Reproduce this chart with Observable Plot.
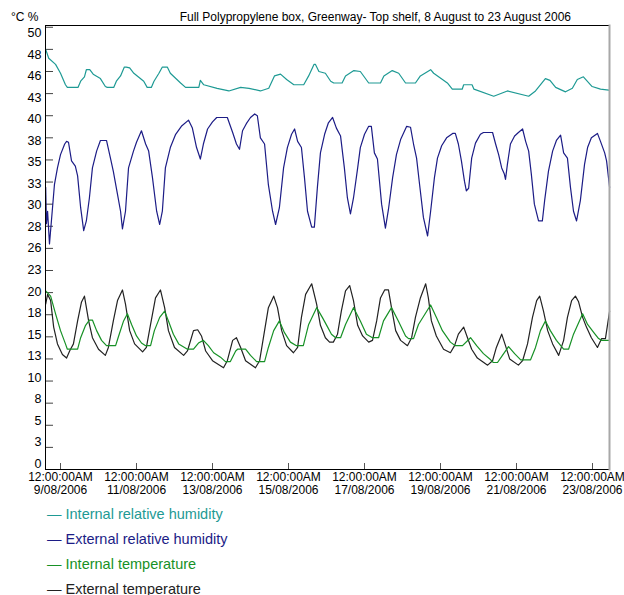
<!DOCTYPE html>
<html><head><meta charset="utf-8">
<script src="https://cdn.jsdelivr.net/npm/d3@7"></script>
<script src="https://cdn.jsdelivr.net/npm/@observablehq/plot@0.6"></script>
<style>
body{margin:0;background:#fff;font-family:Arial,"Liberation Sans",sans-serif;}
#wrap{position:relative;width:624px;}
#head{position:relative;height:24px;font-size:12px;line-height:14px;color:#000;}
#unit{position:absolute;left:11px;top:10px;}
#title{position:absolute;right:53px;top:10px;white-space:nowrap;}
#legend{font-size:14.5px;}
#legend .row{height:25px;line-height:25px;padding-left:47px;white-space:nowrap;}
</style></head><body>
<div id="wrap">
<div id="head"><span id="unit"></span><span id="title"></span></div>
<div id="chart"></div>
<div id="legend"></div>
</div>
<script>
const titleText = "Full Polypropylene box, Greenway- Top shelf, 8 August to 23 August 2006";
const unitText = "°C %";

// [day of August 2006 (decimal, 9.0 = 12:00:00AM 9/08/2006), value]
const internalRH = [[8.61,47.5],[8.69,46.5],[8.87,45.8],[9.00,44.8],[9.13,43.5],[9.18,43.2],[9.46,43.2],[9.53,43.9],[9.63,44.4],[9.68,45.2],[9.77,45.2],[9.86,44.7],[10.05,44.2],[10.18,43.3],[10.23,43.2],[10.40,43.2],[10.47,43.9],[10.58,44.5],[10.68,45.5],[10.73,45.5],[10.82,45.4],[10.93,44.8],[11.19,43.9],[11.28,43.2],[11.39,43.2],[11.46,43.9],[11.59,44.8],[11.68,45.5],[11.81,45.5],[11.89,44.8],[12.16,43.7],[12.29,43.2],[12.64,43.2],[12.68,44.0],[12.77,43.5],[13.12,43.1],[13.43,42.8],[13.74,43.2],[13.96,43.1],[14.26,42.8],[14.48,43.1],[14.63,44.5],[14.79,44.7],[14.95,44.1],[15.14,43.5],[15.40,43.5],[15.53,44.5],[15.67,45.8],[15.71,45.8],[15.80,45.0],[15.97,44.8],[16.11,43.9],[16.19,43.7],[16.41,43.7],[16.50,44.5],[16.72,45.1],[16.89,45.0],[17.11,43.7],[17.42,43.7],[17.51,44.5],[17.73,45.1],[17.90,44.8],[18.08,43.7],[18.34,43.7],[18.47,44.5],[18.74,45.2],[18.82,44.8],[19.18,43.7],[19.31,43.0],[19.57,43.0],[19.61,43.5],[19.83,43.5],[19.88,43.0],[20.40,42.2],[20.76,42.8],[21.32,42.2],[21.50,42.8],[21.76,44.2],[21.88,44.0],[22.03,43.2],[22.29,42.7],[22.47,43.1],[22.60,44.1],[22.76,44.4],[22.99,43.3],[23.21,43.0],[23.43,42.9]];

const externalRH = [[8.61,31.9],[8.63,27.8],[8.66,29.2],[8.71,25.5],[8.84,32.2],[8.92,34.1],[9.00,35.6],[9.11,36.8],[9.16,37.1],[9.21,37.0],[9.29,34.9],[9.39,34.3],[9.45,33.2],[9.53,29.6],[9.61,27.0],[9.68,28.1],[9.76,30.7],[9.84,34.1],[9.95,36.0],[10.05,37.2],[10.21,37.2],[10.32,35.1],[10.39,33.7],[10.50,31.1],[10.58,29.2],[10.63,27.2],[10.71,29.2],[10.79,34.1],[10.92,36.0],[11.00,37.0],[11.13,38.3],[11.24,36.8],[11.32,36.0],[11.42,33.0],[11.53,29.2],[11.61,27.7],[11.68,29.2],[11.76,34.1],[11.89,36.4],[12.03,37.9],[12.18,38.8],[12.37,39.5],[12.47,38.6],[12.58,36.4],[12.68,35.1],[12.76,36.8],[12.87,38.5],[13.00,39.3],[13.11,39.8],[13.39,39.8],[13.53,38.1],[13.63,36.8],[13.71,36.2],[13.79,38.3],[13.89,39.1],[14.00,39.8],[14.11,40.2],[14.18,40.0],[14.26,37.5],[14.37,36.8],[14.47,32.2],[14.58,29.2],[14.66,27.7],[14.76,29.6],[14.87,34.1],[14.97,36.4],[15.08,37.9],[15.16,38.5],[15.24,37.1],[15.34,36.4],[15.42,33.0],[15.50,29.2],[15.61,27.4],[15.68,27.4],[15.76,31.9],[15.84,35.8],[15.95,37.9],[16.05,39.2],[16.16,39.8],[16.26,38.6],[16.37,37.7],[16.47,34.1],[16.55,30.7],[16.63,28.9],[16.71,30.7],[16.82,34.1],[16.89,36.4],[17.00,37.9],[17.11,38.8],[17.18,38.8],[17.26,35.8],[17.34,35.1],[17.45,30.0],[17.55,27.3],[17.63,29.4],[17.74,33.0],[17.84,35.6],[17.95,37.3],[18.11,38.8],[18.21,38.7],[18.29,36.8],[18.37,35.2],[18.45,32.2],[18.55,28.5],[18.66,26.4],[18.74,29.2],[18.84,33.0],[18.92,35.2],[19.03,36.6],[19.16,37.5],[19.32,38.0],[19.39,38.0],[19.47,36.8],[19.55,34.9],[19.63,32.6],[19.68,31.5],[19.74,31.8],[19.82,35.2],[19.92,36.9],[20.05,37.9],[20.13,38.1],[20.37,38.1],[20.45,36.8],[20.53,35.6],[20.61,34.1],[20.68,33.4],[20.71,32.8],[20.76,34.5],[20.84,36.8],[20.95,37.7],[21.05,38.1],[21.16,38.5],[21.24,37.1],[21.32,36.0],[21.39,33.4],[21.47,30.0],[21.58,28.1],[21.68,28.1],[21.74,30.4],[21.84,33.7],[21.95,36.0],[22.05,37.2],[22.16,37.8],[22.24,35.8],[22.34,35.2],[22.42,31.9],[22.50,29.2],[22.58,28.1],[22.68,30.4],[22.79,34.5],[22.87,36.4],[22.97,37.5],[23.13,38.0],[23.21,37.1],[23.32,35.8],[23.37,34.9],[23.45,31.9]];

const internalTemp = [[8.61,20.2],[8.74,19.6],[8.87,17.6],[9.00,15.7],[9.13,14.2],[9.18,13.6],[9.45,13.6],[9.53,14.9],[9.66,16.3],[9.76,16.9],[9.84,16.9],[9.95,15.7],[10.08,14.6],[10.21,14.0],[10.45,14.0],[10.53,15.1],[10.66,16.8],[10.76,17.6],[10.87,16.4],[11.00,15.1],[11.13,14.3],[11.24,14.0],[11.37,14.0],[11.47,15.7],[11.61,17.2],[11.74,17.9],[11.84,16.8],[11.97,15.3],[12.11,14.2],[12.34,13.6],[12.50,13.6],[12.63,14.3],[12.76,14.6],[12.89,14.0],[13.03,13.2],[13.21,12.7],[13.34,12.2],[13.47,12.2],[13.61,13.4],[13.66,13.6],[13.87,13.6],[14.00,12.9],[14.16,12.2],[14.37,12.2],[14.47,13.8],[14.61,15.7],[14.76,16.8],[14.89,15.5],[15.05,14.4],[15.21,14.0],[15.39,14.0],[15.53,16.4],[15.74,18.3],[15.89,17.2],[16.03,16.1],[16.13,15.3],[16.24,14.9],[16.37,14.9],[16.50,16.4],[16.71,18.3],[16.89,16.8],[17.05,15.3],[17.21,14.9],[17.37,14.9],[17.50,16.8],[17.71,18.3],[17.89,16.8],[18.08,15.1],[18.16,14.8],[18.29,14.8],[18.42,16.4],[18.74,18.6],[18.89,17.2],[19.05,15.7],[19.26,14.4],[19.39,14.0],[19.58,14.0],[19.79,14.9],[19.95,14.0],[20.13,13.1],[20.32,12.4],[20.39,12.1],[20.50,12.1],[20.63,12.9],[20.79,13.9],[20.95,13.1],[21.11,12.4],[21.37,12.4],[21.50,13.8],[21.63,15.7],[21.76,16.8],[21.89,15.7],[22.05,14.6],[22.24,13.6],[22.37,13.6],[22.50,15.3],[22.74,17.6],[22.87,16.4],[23.03,15.5],[23.16,14.8],[23.24,14.6],[23.45,14.6]];

const externalTemp = [[8.61,18.7],[8.66,19.8],[8.74,19.1],[8.82,16.1],[8.92,14.2],[9.05,13.0],[9.16,12.6],[9.24,13.4],[9.34,14.2],[9.45,16.8],[9.55,18.9],[9.63,19.6],[9.74,16.8],[9.84,14.9],[10.00,13.6],[10.18,12.9],[10.26,13.8],[10.39,16.8],[10.50,19.1],[10.63,20.3],[10.71,18.7],[10.82,15.7],[10.95,14.2],[11.16,13.3],[11.26,13.8],[11.37,16.4],[11.50,19.4],[11.63,20.3],[11.74,18.3],[11.84,15.7],[12.00,13.8],[12.24,12.9],[12.34,13.4],[12.50,15.7],[12.61,15.8],[12.71,15.1],[12.82,13.4],[13.00,12.3],[13.29,11.5],[13.39,12.3],[13.53,14.6],[13.63,14.9],[13.74,13.8],[13.87,12.3],[14.13,11.5],[14.24,12.3],[14.37,15.7],[14.47,18.3],[14.61,19.6],[14.71,18.3],[14.82,15.7],[14.95,14.0],[15.13,13.2],[15.24,13.8],[15.34,17.2],[15.45,19.8],[15.61,21.0],[15.74,18.7],[15.84,16.3],[15.97,14.9],[16.08,14.4],[16.18,14.4],[16.29,15.3],[16.39,17.9],[16.50,20.2],[16.61,20.8],[16.71,19.1],[16.82,16.3],[16.95,15.1],[17.11,14.4],[17.21,14.6],[17.32,16.8],[17.42,19.4],[17.53,20.3],[17.63,20.3],[17.71,18.3],[17.82,15.7],[17.95,14.6],[18.13,14.0],[18.24,14.9],[18.34,17.2],[18.47,19.4],[18.61,21.0],[18.68,19.4],[18.76,16.8],[18.89,15.1],[19.08,13.6],[19.26,13.2],[19.37,14.0],[19.47,15.3],[19.61,16.1],[19.71,14.9],[19.82,13.6],[19.97,12.6],[20.24,11.8],[20.37,12.3],[20.47,13.8],[20.61,15.3],[20.71,14.0],[20.82,12.5],[21.05,11.8],[21.16,12.3],[21.29,14.2],[21.42,17.2],[21.53,19.1],[21.61,19.6],[21.71,17.9],[21.82,15.7],[21.95,14.2],[22.11,12.9],[22.24,14.6],[22.34,17.2],[22.45,19.1],[22.55,19.6],[22.63,19.0],[22.74,17.2],[22.84,16.1],[22.97,14.9],[23.13,13.8],[23.24,14.8],[23.34,14.8],[23.45,17.9]];

const yTickValues = [0,2.5,5,7.5,10,12.5,15,17.5,20,22.5,25,27.5,30,32.5,35,37.5,40,42.5,45,47.5,50];
const yTickLabels = ["0","3","5","8","10","13","15","18","20","23","26","28","30","33","35","38","40","43","46","48","50"];
const xTickDays = [9,11,13,15,17,19,21,23];
const xTickLabels = ["12:00:00AM\n9/08/2006","12:00:00AM\n11/08/2006","12:00:00AM\n13/08/2006","12:00:00AM\n15/08/2006","12:00:00AM\n17/08/2006","12:00:00AM\n19/08/2006","12:00:00AM\n21/08/2006","12:00:00AM\n23/08/2006"];
const xDomainDays = [8.605, 23.447];

const seriesNames = ["Internal relative humidity","External relative humidity","Internal temperature","External temperature"];
const seriesColors = ["#1e9a94","#1c1c86","#179126","#222222"];

const toDate = d => new Date(Date.UTC(2006, 7, 0) + d * 864e5);
const xTicks = xTickDays.map(toDate);
const xLabelMap = new Map(xTicks.map((t, i) => [+t, xTickLabels[i]]));
const yLabelMap = new Map(yTickValues.map((v, i) => [v, yTickLabels[i]]));

const W = 624, H = 478, mL = 45, mR = 15, mT = 1, mB = 33;
const lineOpts = (c) => ({x: d => toDate(d[0]), y: d => d[1], stroke: c, strokeWidth: 1.2});
// the original's tick labels are spaced slightly tighter than its tick marks
const labelShift = v => -5.7 + 0.23 * v;

const chart = Plot.plot({
  width: W, height: H, marginLeft: mL, marginRight: mR, marginTop: mT, marginBottom: mB,
  x: {type: "utc", domain: xDomainDays.map(toDate)},
  y: {domain: [0, 50.2]},
  style: {fontFamily: "Arial, 'Liberation Sans', sans-serif", fontSize: "12px", color: "#000", background: "#fff", overflow: "visible"},
  marks: [
    ...yTickValues.map(v => Plot.axisY([v], {tickSize: 0, tickPadding: 4, dy: labelShift(v), tickFormat: d => yLabelMap.get(d), fontSize: 12.5})),
    Plot.tickY(yTickValues, {y: d => d, stroke: "#444", insetRight: W - mL - mR - 8}),
    Plot.axisX(xTicks, {tickSize: 0, tickPadding: 3, tickFormat: d => xLabelMap.get(+d), lineHeight: 1.05}),
    Plot.tickX(xTicks, {x: d => d, stroke: "#555", insetTop: H - mT - mB - 6}),
    Plot.line(externalTemp, lineOpts(seriesColors[3])),
    Plot.line(internalTemp, lineOpts(seriesColors[2])),
    Plot.line(externalRH, lineOpts(seriesColors[1])),
    Plot.line(internalRH, lineOpts(seriesColors[0])),
    Plot.frame({anchor: "top", stroke: "#000"}),
    Plot.frame({anchor: "left", stroke: "#000"}),
    Plot.frame({anchor: "bottom", stroke: "#000"}),
    Plot.frame({anchor: "right", stroke: "#a8a8a8", strokeWidth: 2})
  ]
});
document.getElementById("chart").appendChild(chart);
document.getElementById("unit").textContent = unitText;
document.getElementById("title").textContent = titleText;
const leg = document.getElementById("legend");
seriesNames.forEach((n, i) => {
  const r = document.createElement("div");
  r.className = "row";
  r.style.color = seriesColors[i];
  r.textContent = "\u2014 " + n;
  leg.appendChild(r);
});
</script>
</body></html>
